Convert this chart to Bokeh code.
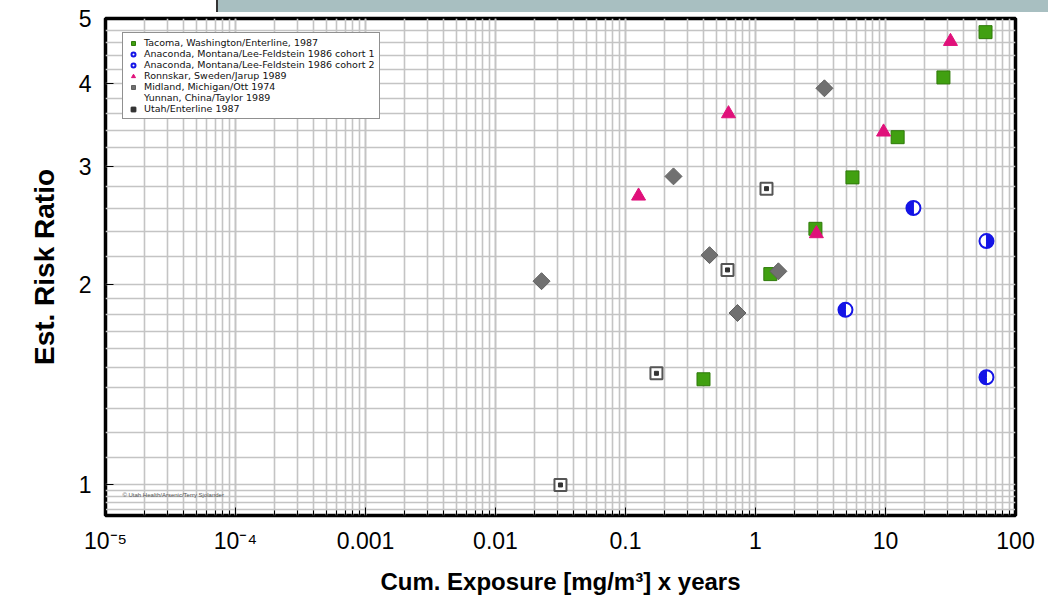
import math
from bokeh.plotting import figure
from bokeh.layouts import column
from bokeh.models import (Range1d, LogTicker, FixedTicker, CustomJSTickFormatter, Legend,
                          LegendItem, Label, Div)
from bokeh.embed import file_html
from bokeh.resources import INLINE

# ---------------- data ----------------
tacoma_x = [58.8, 27.9, 12.4, 5.57, 2.89, 1.30, 0.398]
tacoma_y = [4.77, 4.08, 3.32, 2.89, 2.42, 2.07, 1.44]

anac1_x = [16.4, 4.92, 59.8]
anac1_y = [2.60, 1.83, 1.45]

anac2_x = [59.8]
anac2_y = [2.32]

ronn_x = [0.126, 0.62, 9.66, 2.94, 31.6]
ronn_y = [2.71, 3.60, 3.38, 2.38, 4.62]

midland_x = [0.0226, 0.234, 0.443, 0.727, 1.50, 3.39]
midland_y = [2.02, 2.90, 2.21, 1.81, 2.09, 3.93]

yunnan_x = []
yunnan_y = []

utah_x = [0.173, 0.609, 1.215, 0.0316]
utah_y = [1.47, 2.10, 2.78, 1.00]

x_tick_labels = ["10\u207b\u2075", "10\u207b\u2074", "0.001", "0.01", "0.1", "1", "10", "100"]
y_ticks = [1, 2, 3, 4, 5]
y_grid_vals = ([0.92, 0.94, 0.96, 0.98] + [round(1 + 0.1 * i, 2) for i in range(11)]
               + [round(2 + 0.2 * i, 2) for i in range(1, 16)])

legend_labels = ["Tacoma, Washington/Enterline, 1987",
                 "Anaconda, Montana/Lee-Feldstein 1986 cohort 1",
                 "Anaconda, Montana/Lee-Feldstein 1986 cohort 2",
                 "Ronnskar, Sweden/Jarup 1989",
                 "Midland, Michigan/Ott 1974",
                 "Yunnan, China/Taylor 1989",
                 "Utah/Enterline 1987"]

FONT = "Liberation Sans"

p = figure(width=1050, height=595, frame_width=910, frame_height=497,
           x_axis_type="log", y_axis_type="log",
           x_range=Range1d(1e-5, 100), y_range=Range1d(0.9, 5),
           output_backend="svg", toolbar_location=None,
           min_border_left=105, min_border_right=35, min_border_top=18, min_border_bottom=80)
p.background_fill_color = "white"
p.border_fill_color = "white"
p.outline_line_color = "black"
p.outline_line_width = 3.5

# grid
p.xgrid.ticker = LogTicker(num_minor_ticks=10)
p.xgrid.grid_line_color = "#c4c4c4"
p.xgrid.grid_line_width = 1.6
p.xgrid.minor_grid_line_color = "#c4c4c4"
p.xgrid.minor_grid_line_width = 1.6
p.ygrid.ticker = FixedTicker(ticks=y_grid_vals)
p.ygrid.grid_line_color = "#c4c4c4"
p.ygrid.grid_line_width = 1.6

# axes
xa = p.xaxis[0]
xa.ticker = LogTicker(num_minor_ticks=10)
xa.formatter = CustomJSTickFormatter(args=dict(labels=x_tick_labels),
                                     code="const e = Math.round(Math.log10(tick)); return labels[e + 5] ?? '';")
xa.axis_line_color = None
xa.major_tick_in = 8
xa.major_tick_out = 0
xa.minor_tick_in = 5
xa.minor_tick_out = 0
xa.major_tick_line_color = "black"
xa.minor_tick_line_color = "black"
xa.major_label_text_font = FONT
xa.major_label_text_font_size = "23px"
xa.major_label_text_color = "black"
xa.major_label_standoff = 12
xa.axis_label = "Cum. Exposure [mg/m\u00b3] x years"
xa.axis_label_text_font = FONT
xa.axis_label_text_font_style = "bold"
xa.axis_label_text_font_size = "24px"
xa.axis_label_text_color = "black"
xa.axis_label_standoff = 11

ya = p.yaxis[0]
ya.ticker = FixedTicker(ticks=y_ticks)
ya.axis_line_color = None
ya.major_tick_in = 8
ya.major_tick_out = 0
ya.minor_tick_line_color = None
ya.major_tick_line_color = "black"
ya.major_label_text_font = FONT
ya.major_label_text_font_size = "23px"
ya.major_label_text_color = "black"
ya.major_label_standoff = 14
ya.axis_label = "Est. Risk Ratio"
ya.axis_label_text_font = FONT
ya.axis_label_text_font_style = "bold"
ya.axis_label_text_font_size = "28px"
ya.axis_label_text_color = "black"
ya.axis_label_standoff = 16

# ---------------- glyphs ----------------
r_tac = p.scatter(tacoma_x, tacoma_y, marker="square", size=13,
                  fill_color="#41a011", line_color="#2f7a0a", line_width=1)

BLUE = "#1414e6"
r_a1b = p.scatter(anac1_x, anac1_y, marker="circle", size=14,
                  fill_color="white", line_color=BLUE, line_width=2)
p.wedge(anac1_x, anac1_y, radius=6.5, radius_units="screen",
        start_angle=math.pi / 2, end_angle=3 * math.pi / 2,
        fill_color=BLUE, line_color=BLUE)
r_a2b = p.scatter(anac2_x, anac2_y, marker="circle", size=14,
                  fill_color="white", line_color=BLUE, line_width=2)
p.wedge(anac2_x, anac2_y, radius=6.5, radius_units="screen",
        start_angle=-math.pi / 2, end_angle=math.pi / 2,
        fill_color=BLUE, line_color=BLUE)

r_ron = p.scatter(ronn_x, ronn_y, marker="triangle", size=14,
                  fill_color="#e0107a", line_color="#e0107a")
r_mid = p.scatter(midland_x, midland_y, marker="square", size=12, angle=math.pi / 4,
                  fill_color="#707070", line_color="#606060")
r_yun = p.scatter(yunnan_x, yunnan_y, marker="circle", size=13,
                  fill_color="#7a7a7a", line_color="#6a6a6a")
r_uta = p.scatter(utah_x, utah_y, marker="square", size=12,
                  fill_color="white", line_color="#555555", line_width=2)
r_uta2 = p.scatter(utah_x, utah_y, marker="square", size=4,
                   fill_color="#333333", line_color="#333333")

items = [LegendItem(label=legend_labels[0], renderers=[r_tac]),
         LegendItem(label=legend_labels[1], renderers=[r_a1b]),
         LegendItem(label=legend_labels[2], renderers=[r_a2b]),
         LegendItem(label=legend_labels[3], renderers=[r_ron]),
         LegendItem(label=legend_labels[4], renderers=[r_mid]),
         LegendItem(label=legend_labels[5], renderers=[r_yun]),
         LegendItem(label=legend_labels[6], renderers=[r_uta, r_uta2])]
legend = Legend(items=items, location=(17, 396), orientation="vertical",
                label_text_font="DejaVu Sans", label_text_font_size="9.5px",
                label_text_color="#111111",
                label_height=9, glyph_height=10, glyph_width=12,
                label_standoff=5, spacing=0, padding=4, margin=0,
                border_line_color="#222222", border_line_width=1.5,
                background_fill_color="white", background_fill_alpha=1)
p.add_layout(legend, "center")

# copyright note
p.add_layout(Label(x=1.35e-5, y=0.955, text="\u00a9 Utah Health/Arsenic/Terry Sjolander",
                   text_font=FONT, text_font_size="6px", text_color="#555555"))

# slide decoration bar at top (overlaid on the figure's top border)
bar = Div(text='<div style="width:832px;height:12px;'
               'background:#a8bfc1;border-left:2px solid #333333;"></div>',
          width=834, height=19, margin=0,
          styles={"position": "absolute", "top": "0px", "left": "216px", "z-index": "10"})

layout = column(p, bar, spacing=0)
open("out.html", "w").write(file_html(layout, INLINE))
